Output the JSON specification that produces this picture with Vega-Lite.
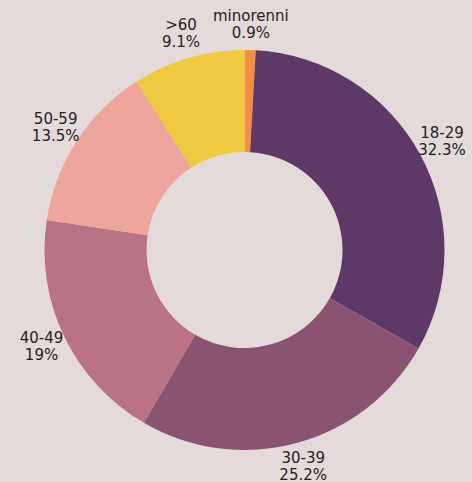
{
  "$schema": "https://vega.github.io/schema/vega-lite/v6.json",
  "autosize": {"type": "fit", "contains": "padding"},
  "width": 472,
  "height": 482,
  "padding": {"left": 17, "top": 18, "right": 0, "bottom": 0},
  "background": "#e5dada",
  "config": {"view": {"stroke": null}},
  "data": {
    "values": [
      {"group": "minorenni", "pct": 0.9, "label": "minorenni\n0.9%", "ord": 1},
      {"group": "18-29", "pct": 32.3, "label": "18-29\n32.3%", "ord": 2},
      {"group": "30-39", "pct": 25.2, "label": "30-39\n25.2%", "ord": 3},
      {"group": "40-49", "pct": 19, "label": "40-49\n19%", "ord": 4},
      {"group": "50-59", "pct": 13.5, "label": "50-59\n13.5%", "ord": 5},
      {"group": ">60", "pct": 9.1, "label": ">60\n9.1%", "ord": 6}
    ]
  },
  "encoding": {
    "theta": {"field": "pct", "type": "quantitative", "stack": true},
    "order": {"field": "ord", "type": "quantitative"}
  },
  "layer": [
    {
      "mark": {"type": "arc", "outerRadius": 200, "innerRadius": 98},
      "encoding": {
        "color": {
          "field": "group",
          "type": "nominal",
          "scale": {
            "domain": ["minorenni", "18-29", "30-39", "40-49", "50-59", ">60"],
            "range": ["#f68d45", "#5e3866", "#8a5371", "#b97385", "#eea59b", "#efc93f"]
          },
          "legend": null
        }
      }
    },
    {
      "mark": {
        "type": "text",
        "radius": 225,
        "dy": -9,
        "lineBreak": "\n",
        "font": "DejaVu Sans",
        "fontSize": 15,
        "color": "#222222",
        "align": "center",
        "baseline": "middle",
        "lineHeight": 17
      },
      "encoding": {
        "text": {"field": "label", "type": "nominal"}
      }
    }
  ]
}
